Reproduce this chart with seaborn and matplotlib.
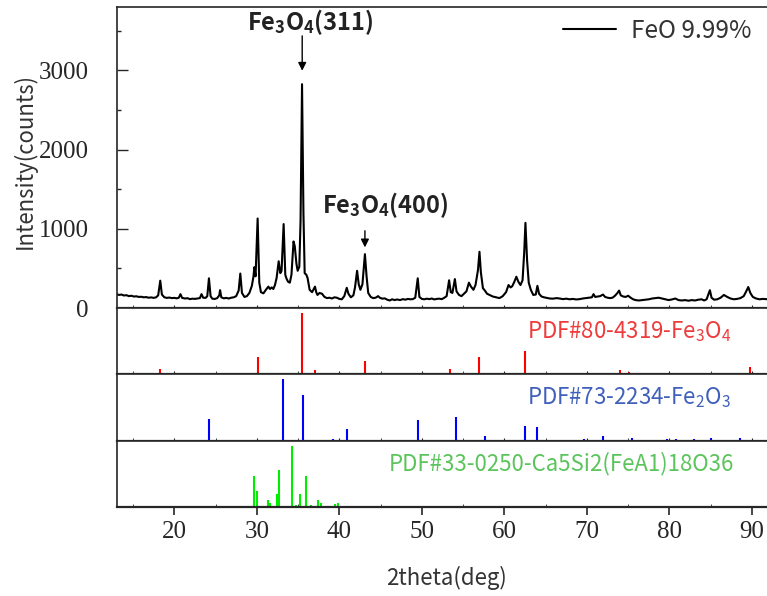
import numpy as np
import pandas as pd
import matplotlib
matplotlib.use('Agg')
import matplotlib.pyplot as plt
from matplotlib.ticker import MultipleLocator
import seaborn as sns

sns.set_style('ticks')
plt.rcParams['font.family'] = ['Noto Sans CJK SC', 'DejaVu Sans']
plt.rcParams['mathtext.fontset'] = 'custom'
plt.rcParams['mathtext.rm'] = 'Noto Sans CJK SC'
plt.rcParams['mathtext.it'] = 'Noto Sans CJK SC'
plt.rcParams['mathtext.bf'] = 'Noto Sans CJK SC:bold'

# measured pattern, FeO 9.99 %
two_theta = [
    13.0, 13.3, 13.6, 13.9, 14.2, 14.5, 14.8, 15.1, 15.4, 15.7, 16.0, 16.3, 16.6, 16.9,
    17.2, 17.5, 17.8, 18.05, 18.3, 18.5, 18.8, 19.1, 19.4, 19.7, 20.0, 20.3, 20.55, 20.75,
    20.95, 21.3, 21.6, 21.9, 22.2, 22.5, 22.8, 23.1, 23.3, 23.5, 23.8, 24.0, 24.2, 24.4,
    24.6, 24.9, 25.2, 25.45, 25.55, 25.7, 26.0, 26.3, 26.6, 26.9, 27.2, 27.5, 27.8, 28.0,
    28.2, 28.5, 28.8, 29.1, 29.4, 29.6, 29.7, 29.85, 30.1, 30.3, 30.5, 30.8, 31.1, 31.4,
    31.6, 31.8, 32.0, 32.2, 32.4, 32.65, 32.85, 33.0, 33.25, 33.45, 33.6, 33.8, 34.0, 34.2,
    34.45, 34.6, 34.8, 34.95, 35.15, 35.3, 35.48, 35.65, 35.8, 36.0, 36.15, 36.4, 36.7, 37.05,
    37.2, 37.35, 37.6, 37.9, 38.2, 38.5, 38.8, 39.1, 39.4, 39.7, 40.0, 40.3, 40.6, 40.9,
    41.1, 41.4, 41.7, 41.9, 42.15, 42.35, 42.55, 42.8, 43.1, 43.3, 43.5, 43.8, 44.1, 44.4,
    44.7, 44.9, 45.2, 45.5, 45.8, 46.1, 46.4, 46.7, 47.0, 47.35, 47.7, 48.0, 48.3, 48.6,
    48.9, 49.2, 49.5, 49.7, 50.0, 50.3, 50.6, 50.9, 51.2, 51.5, 51.8, 52.1, 52.4, 52.7,
    53.0, 53.3, 53.5, 53.7, 54.0, 54.2, 54.5, 54.8, 55.1, 55.4, 55.7, 55.95, 56.25, 56.5,
    56.8, 56.98, 57.15, 57.4, 57.6, 57.9, 58.3, 58.6, 59.0, 59.4, 59.8, 60.2, 60.5, 60.75,
    60.95, 61.2, 61.45, 61.7, 61.95, 62.2, 62.4, 62.55, 62.75, 62.95, 63.2, 63.5, 63.8, 64.0,
    64.2, 64.5, 64.8, 65.1, 65.5, 65.9, 66.3, 66.7, 67.1, 67.5, 67.9, 68.3, 68.7, 69.1,
    69.5, 69.9, 70.3, 70.6, 70.8, 71.0, 71.3, 71.6, 71.95, 72.2, 72.5, 72.8, 73.1, 73.4,
    73.7, 73.9, 74.1, 74.4, 74.7, 75.0, 75.3, 75.6, 75.9, 76.3, 76.7, 77.1, 77.5, 77.9,
    78.3, 78.7, 79.1, 79.5, 79.9, 80.3, 80.7, 81.1, 81.5, 81.9, 82.3, 82.7, 83.1, 83.5,
    83.9, 84.2, 84.5, 84.75, 84.9, 85.1, 85.4, 85.8, 86.2, 86.6, 87.0, 87.4, 87.8, 88.2,
    88.6, 89.0, 89.3, 89.55, 89.8, 90.1, 90.5, 90.9, 91.3, 91.7, 92.0, 93.0,
]
intensity = [
    175, 165, 170, 158, 162, 150, 155, 145, 148, 140, 142, 135, 138, 130,
    134, 128, 135, 160, 345, 170, 135, 128, 132, 125, 128, 122, 130, 175,
    128, 120, 124, 112, 118, 115, 120, 125, 175, 130, 128, 150, 375, 150,
    118, 114, 125, 160, 225, 135, 122, 128, 120, 130, 135, 150, 220, 435,
    190, 140, 150, 190, 280, 400, 515, 400, 1130, 320, 200, 185, 230, 270,
    240, 260, 240, 290, 380, 590, 440, 470, 1060, 420, 370, 330, 320, 420,
    840, 780, 560, 470, 520, 1100, 2825, 1200, 440, 420, 380, 230, 200, 270,
    200, 165, 190, 180, 140, 125, 130, 120, 135, 130, 115, 110, 150, 255,
    180, 135, 160, 260, 470, 300, 230, 300, 680, 400, 190, 140, 125, 130,
    150, 130, 118, 122, 105, 95, 110, 100, 108, 100, 112, 105, 115, 110,
    112, 130, 375, 140, 115, 110, 118, 112, 120, 108, 115, 118, 112, 128,
    150, 350, 200, 190, 365, 210, 165, 150, 180, 210, 320, 270, 230, 290,
    480, 710, 450, 250, 225, 180, 160, 145, 135, 125, 150, 200, 290, 260,
    275, 330, 395, 330, 290, 350, 700, 1075, 600, 320, 230, 165, 170, 280,
    180, 145, 135, 128, 120, 118, 125, 120, 112, 118, 110, 115, 108, 112,
    120, 125, 130, 135, 175, 140, 145, 150, 170, 140, 130, 125, 130, 155,
    190, 220, 160, 145, 140, 155, 130, 110, 100, 95, 100, 105, 110, 120,
    125, 130, 120, 110, 100, 108, 120, 100, 95, 100, 92, 100, 95, 105,
    110, 95, 110, 180, 225, 130, 105, 110, 130, 165, 140, 120, 110, 115,
    125, 150, 210, 265, 190, 140, 120, 110, 115, 112, 110, 110,
]

# reference cards
fe3o4_pos = [18.27, 30.1, 35.45, 37.08, 43.08, 47.1, 53.43, 56.98, 62.55, 65.8, 66.9,
             71.0, 74.05, 75.1, 79.0, 82.0, 86.85, 89.7]
fe3o4_int = [8, 28, 100, 7, 21, 1, 8, 28, 38, 1, 2, 2, 7, 3, 2, 1, 2, 11]

fe2o3_pos = [24.15, 33.15, 35.6, 39.28, 40.87, 43.5, 49.48, 54.1, 56.2, 57.6, 62.45,
             64.0, 66.1, 69.6, 72.0, 75.45, 77.8, 79.7, 80.8, 83.0, 85.0, 88.6]
fe2o3_int = [36, 100, 74, 2, 19, 1, 34, 39, 1, 8, 24, 23, 1, 2, 8, 5, 1, 2, 3, 3, 5, 5]

ca_pos = [29.6, 30.08, 30.6, 31.3, 31.58, 32.39, 32.63, 34.32, 34.8, 35.25, 35.94,
          36.55, 37.47, 37.72, 39.45, 39.86]
ca_int = [51, 26, 2, 11, 6, 21, 60, 100, 3, 21, 51, 3, 11, 6, 4, 6]

xrd = pd.DataFrame({'two_theta': two_theta, 'intensity': intensity})

fig = plt.figure(figsize=(7.67, 5.96), dpi=100)
left, width = 0.1519, 0.8608
ax = fig.add_axes([left, 0.4832, width, 0.5051])
ax_r = fig.add_axes([left, 0.3725, width, 0.1107])
ax_b = fig.add_axes([left, 0.2606, width, 0.1119])
ax_g = fig.add_axes([left, 0.1498, width, 0.1108])

sns.lineplot(data=xrd, x='two_theta', y='intensity', ax=ax, color='black',
             lw=1.5, label='FeO 9.99%', sort=False)
ax.set_xlim(13, 93)
ax.set_ylim(0, 3800)
ax.set_xlabel('')
ax.set_ylabel('')
ax.yaxis.set_major_locator(MultipleLocator(1000))
ax.yaxis.set_minor_locator(MultipleLocator(500))
ax.tick_params(axis='y', which='major', direction='in', length=8, width=1, pad=20,
               labelsize=18, labelfontfamily='Liberation Serif')
ax.tick_params(axis='y', which='minor', direction='in', length=3, width=1)
ax.legend(loc='upper right', bbox_to_anchor=(773 / 767, 1 + 4 / 596),
          bbox_transform=fig.transFigure, frameon=False, fontsize=17.5,
          handlelength=2.2, handletextpad=0.6, labelcolor='#333333')

cards = [
    (ax_r, fe3o4_pos, fe3o4_int, '#ff0000', 'PDF#80-4319-Fe$_3$O$_4$', '#ee3b3b', 62.7),
    (ax_b, fe2o3_pos, fe2o3_int, '#0000ff', 'PDF#73-2234-Fe$_2$O$_3$', '#4060bb', 62.7),
    (ax_g, ca_pos, ca_int, '#00ee00', 'PDF#33-0250-Ca5Si2(FeA1)18O36', '#5cc45c', 46.0),
]
for a, pos, inten, c, name, tc, tx in cards:
    a.vlines(pos, 0, inten, color=c, lw=1.5)
    a.set_xlim(13, 93)
    a.set_ylim(0, 109)
    a.set_yticks([])
    a.text(tx, 0.65, name, transform=a.get_xaxis_transform(), color=tc,
           fontsize=16, va='center', ha='left')

for a in [ax, ax_r, ax_b, ax_g]:
    a.xaxis.set_major_locator(MultipleLocator(10))
    a.xaxis.set_minor_locator(MultipleLocator(5))
    for s in a.spines.values():
        s.set_linewidth(1.2)
    a.spines['bottom'].set_linewidth(1.6)
    if a is not ax_g:
        a.tick_params(axis='x', which='both', direction='in', length=2.5,
                      labelbottom=False)

ax_g.tick_params(axis='x', which='major', direction='out', length=6, width=1.2, pad=4,
                 labelsize=18, labelfontfamily='Liberation Serif')
ax_g.tick_params(axis='x', which='minor', direction='in', length=2.5)

ax.annotate('', xy=(35.5, 2960), xytext=(35.5, 3470),
            arrowprops=dict(arrowstyle='-|>', color='black', lw=1, mutation_scale=12))
ax.text(36.5, 3610, r'Fe$_\mathbf{3}$O$_\mathbf{4}$(311)', ha='center', va='center',
        fontsize=17, fontweight='bold', color='#222222')
ax.annotate('', xy=(43.1, 730), xytext=(43.1, 1010),
            arrowprops=dict(arrowstyle='-|>', color='black', lw=1, mutation_scale=12))
ax.text(45.6, 1300, r'Fe$_\mathbf{3}$O$_\mathbf{4}$(400)', ha='center', va='center',
        fontsize=17, fontweight='bold', color='#222222')

fig.text(25 / 767, 1 - 161 / 596, 'Intensity(counts)', rotation=90, ha='center',
         va='center', fontsize=16, color='#333333')
fig.text(446 / 767, 1 - 578 / 596, '2theta(deg)', ha='center', va='center',
         fontsize=16, color='#333333')

fig.savefig('out.png', dpi=100)
